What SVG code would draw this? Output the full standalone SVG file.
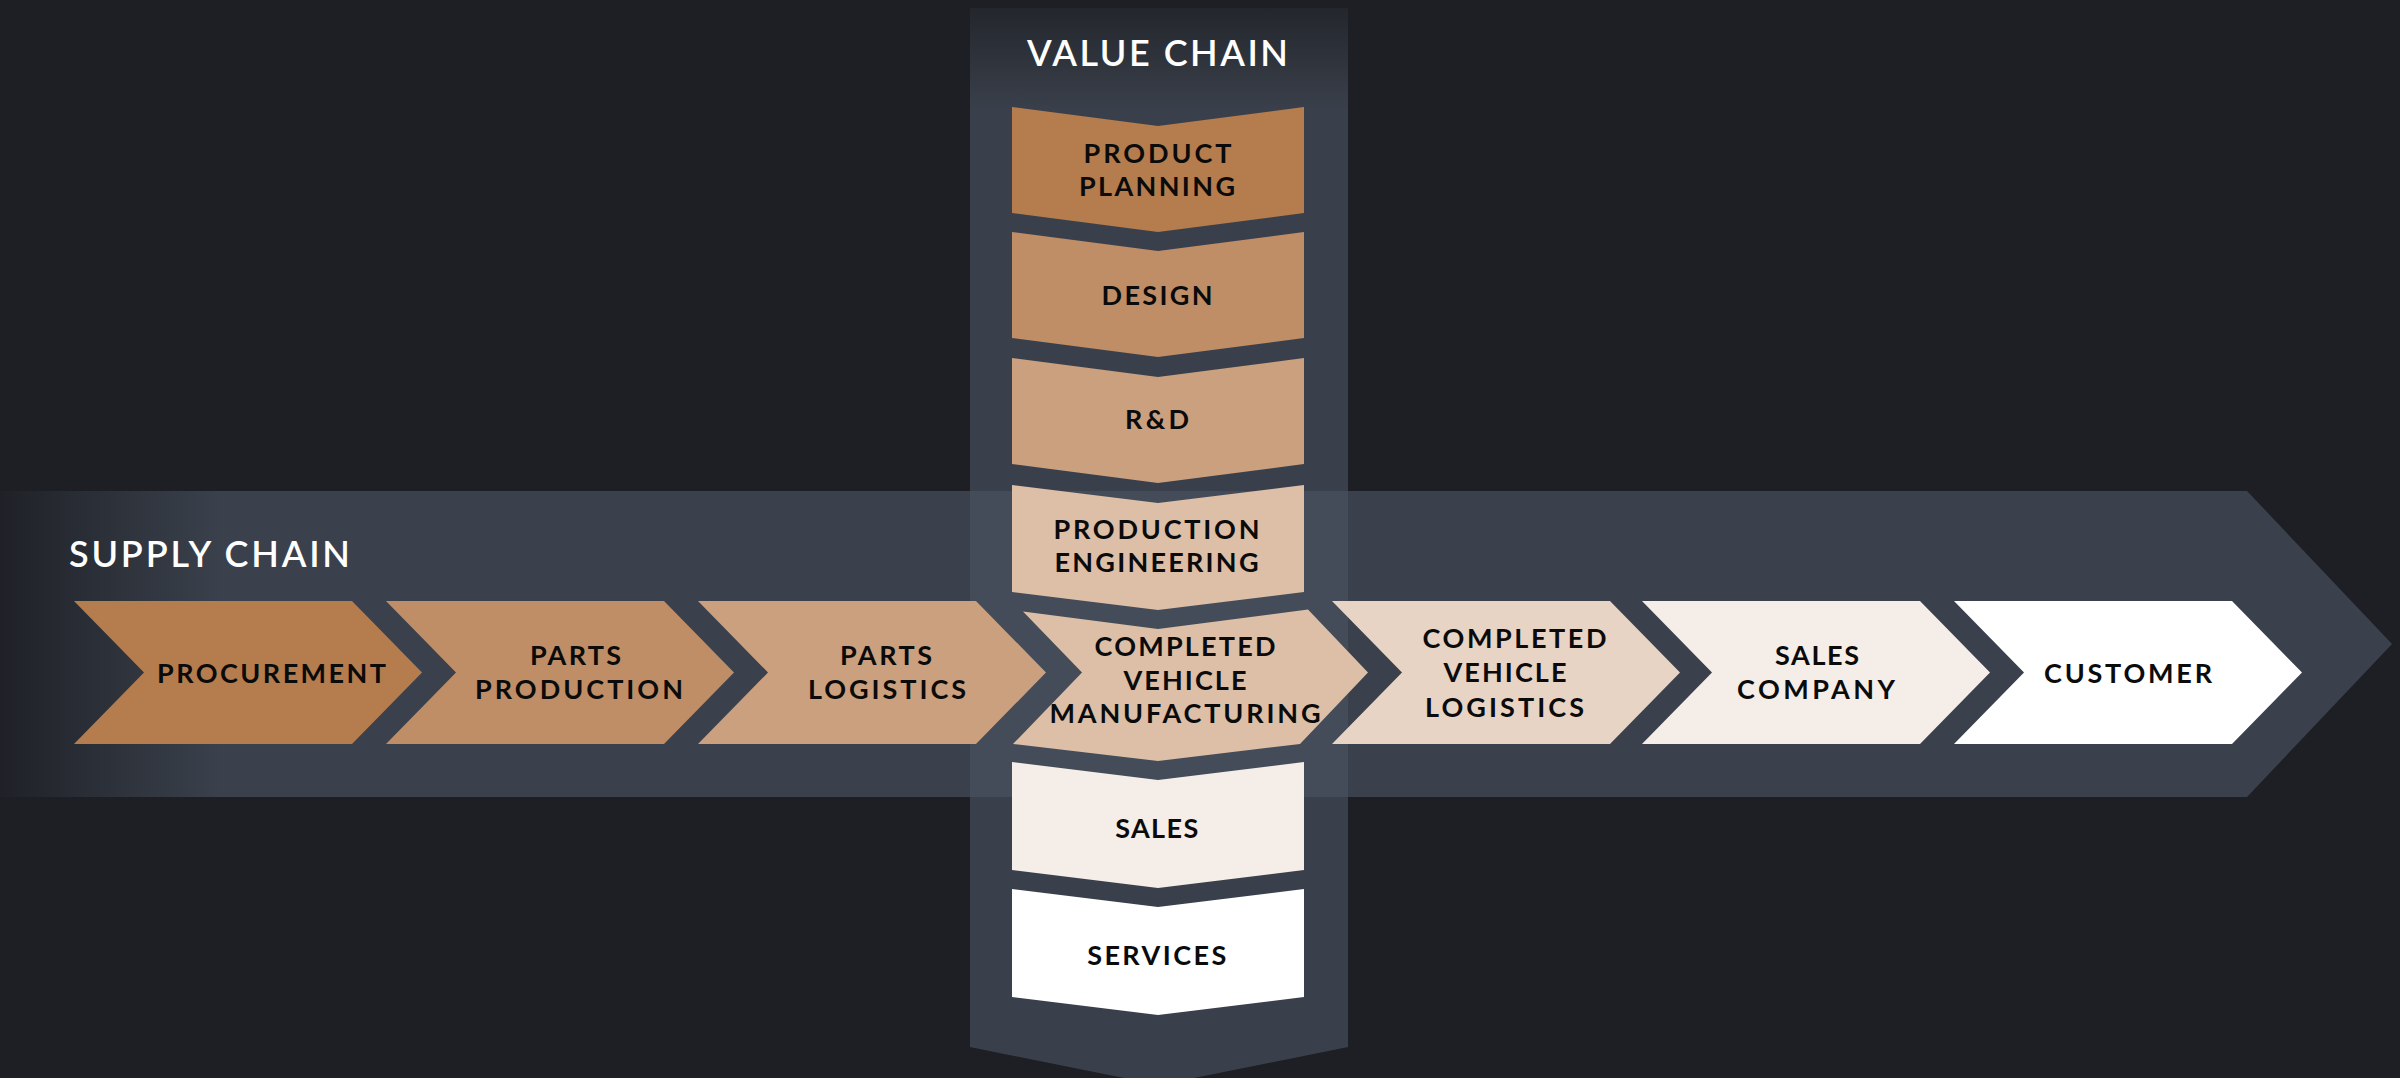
<svg xmlns="http://www.w3.org/2000/svg" width="2400" height="1078" viewBox="0 0 2400 1078">
<defs>
<linearGradient id="bandGrad" gradientUnits="userSpaceOnUse" x1="0" y1="0" x2="220" y2="0">
<stop offset="0" stop-color="#1f2127"/>
<stop offset="1" stop-color="#3a414c"/>
</linearGradient>
<linearGradient id="colGrad" gradientUnits="userSpaceOnUse" x1="0" y1="8" x2="0" y2="110">
<stop offset="0" stop-color="#23262c"/>
<stop offset="1" stop-color="#3a404b"/>
</linearGradient>
<style>
.lbl{font-family:Lato,"Liberation Sans",sans-serif;font-weight:700;font-size:27px;fill:#0b0b0b;text-anchor:middle}
.ttl{font-family:Lato,"Liberation Sans",sans-serif;font-weight:600;font-size:36px;fill:#ffffff}
.c1{fill:#b57d4e}.c2{fill:#bf8e67}.c3{fill:#cba07f}.c4{fill:#dcbfa6}.c5{fill:#e7d4c5}.c6{fill:#f5ede8}.c7{fill:#ffffff}
</style>
</defs>
<rect x="0" y="0" width="2400" height="1078" fill="#1e1f24"/>
<g id="supply-chain-band">
<polygon points="0,491 2247,491 2392,644 2247,797 0,797" fill="url(#bandGrad)"/>
<text class="ttl" x="69" y="567" font-size="35" textLength="281" lengthAdjust="spacing">SUPPLY CHAIN</text>
</g>
<g id="value-chain-column">
<polygon points="970,8 1348,8 1348,1047 1159,1085 970,1047" fill="url(#colGrad)"/>
<rect x="970" y="491" width="378" height="306" fill="#434c58"/>
<text class="ttl" x="1157.5" y="66" text-anchor="middle" textLength="261" lengthAdjust="spacing">VALUE CHAIN</text>
</g>
<g id="connectors"/>
<g id="product-planning">
<polygon class="c1" points="1012,107 1158,126 1304,107 1304,213 1158,232 1012,213"/>
<text class="lbl" x="1157.5" y="163" textLength="148" lengthAdjust="spacing">PRODUCT</text>
<text class="lbl" x="1157" y="196" textLength="156" lengthAdjust="spacing">PLANNING</text>
</g>
<g id="design">
<polygon class="c2" points="1012,232 1158,251 1304,232 1304,338 1158,357 1012,338"/>
<text class="lbl" x="1157" y="305" textLength="111" lengthAdjust="spacing">DESIGN</text>
</g>
<g id="rnd">
<polygon class="c3" points="1012,358 1158,377 1304,358 1304,464 1158,483 1012,464"/>
<text class="lbl" x="1157" y="429" textLength="64" lengthAdjust="spacing">R&amp;D</text>
</g>
<g id="production-engineering">
<polygon class="c4" points="1012,485 1158,503 1304,485 1304,592 1158,610 1012,592"/>
<text class="lbl" x="1156.5" y="539" textLength="206" lengthAdjust="spacing">PRODUCTION</text>
<text class="lbl" x="1156.5" y="572" textLength="204" lengthAdjust="spacing">ENGINEERING</text>
</g>
<g id="sales">
<polygon class="c6" points="1012,762 1158,780 1304,762 1304,870 1158,888 1012,870"/>
<text class="lbl" x="1156.7" y="838" textLength="83" lengthAdjust="spacing">SALES</text>
</g>
<g id="services">
<polygon class="c7" points="1012,889 1158,907 1304,889 1304,997 1158,1015 1012,997"/>
<text class="lbl" x="1156.7" y="965" textLength="139" lengthAdjust="spacing">SERVICES</text>
</g>
<g id="procurement">
<polygon class="c1" points="74,601 352,601 422,672.5 352,744 74,744 144,672.5"/>
<text class="lbl" x="271.5" y="683" textLength="229" lengthAdjust="spacing">PROCUREMENT</text>
</g>
<g id="parts-production">
<polygon class="c2" points="386,601 664,601 734,672.5 664,744 386,744 456,672.5"/>
<text class="lbl" x="575.5" y="665" textLength="91" lengthAdjust="spacing">PARTS</text>
<text class="lbl" x="579" y="699" textLength="208" lengthAdjust="spacing">PRODUCTION</text>
</g>
<g id="parts-logistics">
<polygon class="c3" points="698,601 976,601 1046,672.5 976,744 698,744 768,672.5"/>
<text class="lbl" x="886" y="665" textLength="92" lengthAdjust="spacing">PARTS</text>
<text class="lbl" x="887" y="699" textLength="158" lengthAdjust="spacing">LOGISTICS</text>
</g>
<g id="completed-vehicle-manufacturing">
<polygon class="c4" points="1023,611.4 1158,629 1308,609.5 1368,672.5 1300,744 1158,761 1013,744 1082,672.5"/>
<text class="lbl" x="1185" y="656" textLength="181" lengthAdjust="spacing">COMPLETED</text>
<text class="lbl" x="1185" y="690" textLength="123" lengthAdjust="spacing">VEHICLE</text>
<text class="lbl" x="1185" y="723" textLength="271" lengthAdjust="spacing">MANUFACTURING</text>
</g>
<g id="completed-vehicle-logistics">
<polygon class="c5" points="1332,601 1610,601 1680,672.5 1610,744 1332,744 1402,672.5"/>
<text class="lbl" x="1514.5" y="648" textLength="184" lengthAdjust="spacing">COMPLETED</text>
<text class="lbl" x="1505" y="682" textLength="123" lengthAdjust="spacing">VEHICLE</text>
<text class="lbl" x="1504.5" y="716.5" textLength="159" lengthAdjust="spacing">LOGISTICS</text>
</g>
<g id="sales-company">
<polygon class="c6" points="1642,601 1920,601 1990,672.5 1920,744 1642,744 1712,672.5"/>
<text class="lbl" x="1817" y="665" textLength="84" lengthAdjust="spacing">SALES</text>
<text class="lbl" x="1816" y="699" textLength="158" lengthAdjust="spacing">COMPANY</text>
</g>
<g id="customer">
<polygon class="c7" points="1954,601 2232,601 2302,672.5 2232,744 1954,744 2024,672.5"/>
<text class="lbl" x="2128" y="683" textLength="168" lengthAdjust="spacing">CUSTOMER</text>
</g>
</svg>
